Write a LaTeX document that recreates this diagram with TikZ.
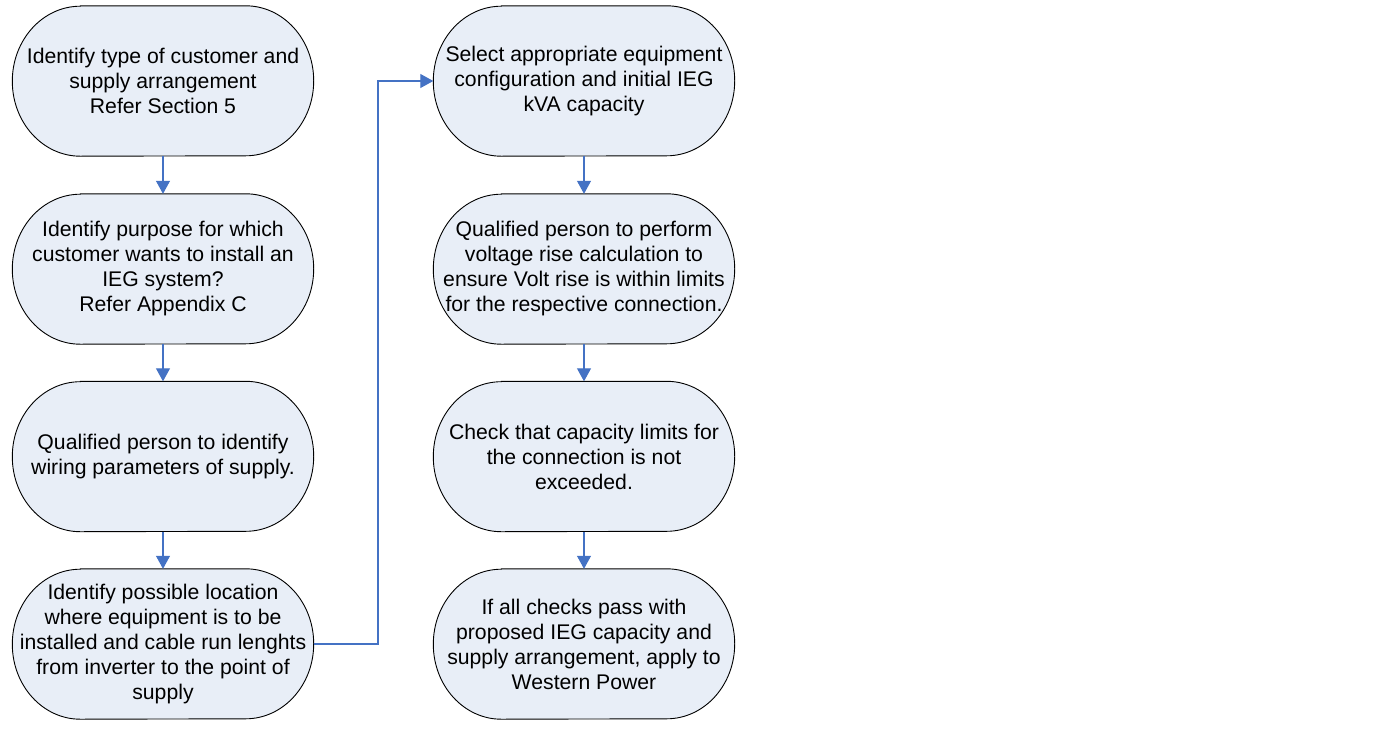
\documentclass[tikz,border=0pt]{standalone}
\usepackage{fontspec}
\setmainfont{Liberation Sans}
\usetikzlibrary{arrows.meta,backgrounds,calc}
\definecolor{boxfill}{RGB}{232,238,247}
\definecolor{linkblue}{RGB}{68,114,196}
\newcommand{\termshape}[1]{%
  \begin{pgfonlayer}{background}
  \draw[shapeline] ($(#1.north west)+(68,0)$) -- ($(#1.north east)+(-68,0)$)
    arc[start angle=90,end angle=-90,x radius=68pt,y radius=75pt]
    -- ($(#1.south west)+(68,0)$)
    arc[start angle=270,end angle=90,x radius=68pt,y radius=75pt] -- cycle;
  \end{pgfonlayer}}
\begin{document}
\begin{tikzpicture}[x=1pt,y=-1pt,
  stepbox/.style={minimum width=301pt, minimum height=150pt, inner sep=0pt, align=center,
    font=\fontsize{21.2pt}{25pt}\selectfont},
  shapeline/.style={draw=black, line width=0.9pt, fill=boxfill},
  link/.style={draw=linkblue, line width=1.1pt, -{Triangle[length=13pt,width=14pt]}}]
\useasboundingbox (0,0) rectangle (1383,731);
\node[stepbox] (n1) at (163,81) {Identify type of customer and\\supply arrangement\\Refer Section 5};
\node[stepbox] (n2) at (163,269) {Identify purpose for which\\customer wants to install an\\IEG system?\\Refer Appendix C};
\node[stepbox] (n3) at (163,456.5) {Qualified person to identify\\wiring parameters of supply.};
\node[stepbox] (n4) at (163,644) {Identify possible location\\where equipment is to be\\installed and cable run lenghts\\from inverter to the point of\\supply};
\node[stepbox] (n5) at (584,81) {Select appropriate equipment\\configuration and initial IEG\\kVA capacity};
\node[stepbox] (n6) at (584,269) {Qualified person to perform\\voltage rise calculation to\\ensure Volt rise is within limits\\for the respective connection.};
\node[stepbox] (n7) at (584,456.5) {Check that capacity limits for\\the connection is not\\exceeded.};
\node[stepbox] (n8) at (584,644) {If all checks pass with\\proposed IEG capacity and\\supply arrangement, apply to\\Western Power};
\termshape{n1}\termshape{n2}\termshape{n3}\termshape{n4}
\termshape{n5}\termshape{n6}\termshape{n7}\termshape{n8}
\coordinate (bend) at (378,644);
\draw[link] (n1) -- (n2);
\draw[link] (n2) -- (n3);
\draw[link] (n3) -- (n4);
\draw[link] (n4.east) -- (bend) |- (n5.west);
\draw[link] (n5) -- (n6);
\draw[link] (n6) -- (n7);
\draw[link] (n7) -- (n8);
\end{tikzpicture}
\end{document}
